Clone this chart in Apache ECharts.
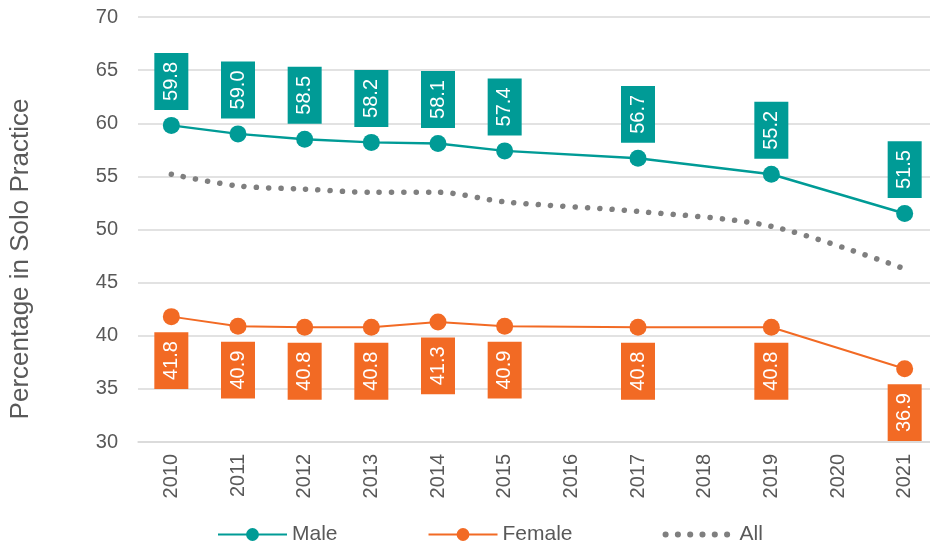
<!DOCTYPE html>
<html>
<head>
<meta charset="utf-8">
<script src="https://cdn.jsdelivr.net/npm/echarts@6/dist/echarts.min.js"></script>
<style>
  html, body { margin: 0; padding: 0; background: #fff; }
  #main { width: 930px; height: 546px; }
</style>
</head>
<body>
<div id="main"></div>
<script>
// years on the x axis (2016, 2018, 2020 have no survey data)
let years = ['2010', '2011', '2012', '2013', '2014', '2015', '2016', '2017', '2018', '2019', '2020', '2021'];
let male = [59.8, 59.0, 58.5, 58.2, 58.1, 57.4, null, 56.7, null, 55.2, null, 51.5];
let female = [41.8, 40.9, 40.8, 40.8, 41.3, 40.9, null, 40.8, null, 40.8, null, 36.9];
let all = [55.2, 54.1, 53.8, 53.5, 53.5, 52.6, null, 51.7, null, 50.3, null, 46.3];

let teal = '#009B96';
let orange = '#F26A24';
let grey = '#595959';
let dotGrey = '#7F7F7F';
let font = 'Arial, "Liberation Sans", sans-serif';

let fmt = function (p) {
    return p.value == null ? '' : Number(p.value).toFixed(1);
};

let myChart = echarts.init(document.getElementById('main'));
let option = {
    animation: false,
    textStyle: { fontFamily: font },
    grid: { left: 138, top: 17, width: 800, height: 425, outerBoundsMode: 'none' },
    legend: {
        left: 212,
        top: 519,
        itemWidth: 69,
        itemHeight: 16,
        itemGap: 90,
        textStyle: { fontSize: 21, color: grey, fontFamily: font },
        data: [
            'Male',
            'Female',
            {
                name: 'All',
                itemStyle: { opacity: 0 },
                lineStyle: { color: dotGrey, width: 6, type: [0.1, 12.2], cap: 'round' }
            }
        ]
    },
    graphic: [{
        type: 'text',
        x: 21,
        y: 259,
        rotation: Math.PI / 2,
        style: {
            text: 'Percentage in Solo Practice',
            fill: grey,
            font: '26px ' + font,
            align: 'center',
            verticalAlign: 'middle'
        }
    }],
    xAxis: {
        type: 'category',
        data: years,
        boundaryGap: true,
        axisLine: { lineStyle: { color: '#d9d9d9', width: 1.5 } },
        axisTick: { show: false },
        axisLabel: { rotate: 90, fontSize: 20, color: grey, margin: 12, interval: 0 }
    },
    yAxis: {
        type: 'value',
        min: 30,
        max: 70,
        interval: 5,
        axisLine: { show: false },
        axisTick: { show: false },
        axisLabel: { fontSize: 20, color: grey, margin: 20 },
        splitLine: { lineStyle: { color: '#d9d9d9', width: 1.5 } }
    },
    series: [
        {
            name: 'Male',
            type: 'line',
            data: male,
            connectNulls: true,
            symbol: 'circle',
            symbolSize: 17,
            itemStyle: { color: teal },
            lineStyle: { color: teal, width: 2.5 },
            label: {
                show: true,
                position: 'top',
                distance: 7,
                rotate: 90,
                align: 'left',
                verticalAlign: 'middle',
                formatter: fmt,
                color: '#fff',
                fontSize: 20,
                lineHeight: 22,
                backgroundColor: teal,
                padding: [6, 9]
            },
            z: 3
        },
        {
            name: 'Female',
            type: 'line',
            data: female,
            connectNulls: true,
            symbol: 'circle',
            symbolSize: 17,
            itemStyle: { color: orange },
            lineStyle: { color: orange, width: 2 },
            label: {
                show: true,
                position: 'bottom',
                distance: 7,
                rotate: 90,
                align: 'right',
                verticalAlign: 'middle',
                formatter: fmt,
                color: '#fff',
                fontSize: 20,
                lineHeight: 22,
                backgroundColor: orange,
                padding: [6, 9]
            },
            z: 3
        },
        {
            name: 'All',
            type: 'line',
            data: all,
            connectNulls: true,
            smooth: 0.3,
            symbol: 'none',
            itemStyle: { color: dotGrey },
            lineStyle: { color: dotGrey, width: 5.5, type: [0.1, 12.2], cap: 'round' },
            z: 2
        }
    ]
};
myChart.setOption(option);
</script>
</body>
</html>
